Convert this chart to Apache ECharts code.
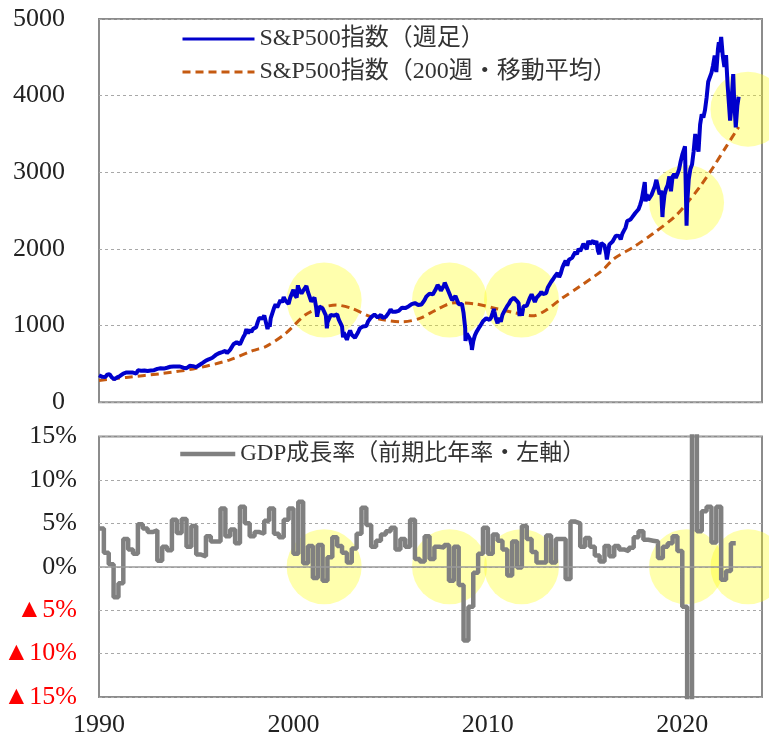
<!DOCTYPE html>
<html><head><meta charset="utf-8">
<script src="https://cdn.jsdelivr.net/npm/echarts@6/dist/echarts.min.js"></script>
<style>html,body{margin:0;padding:0;background:#fff}#c{width:769px;height:736px}</style>
</head><body><div id="c"></div>
<script>
// ---- data ----
const spxStart = [1990.0, 353];
// month-end closes, Jan 1990 .. Oct 2022
const spxMonthly = [
 329,332,340,331,361,358,356,323,306,304,322,330,
 344,367,375,375,390,371,388,395,388,392,375,417,
 409,413,404,415,415,408,424,414,418,419,431,436,
 439,443,452,440,450,451,448,464,459,468,462,467,
 482,467,446,451,457,444,458,476,463,472,454,459,
 470,487,501,515,533,545,562,562,584,582,605,616,
 636,640,646,654,669,671,640,652,687,705,757,741,
 786,791,757,801,848,885,954,900,947,915,955,970,
 980,1049,1102,1112,1091,1134,1121,957,1017,1099,1164,1229,
 1280,1238,1286,1335,1302,1373,1329,1320,1283,1363,1389,1469,
 1395,1366,1499,1452,1421,1455,1431,1518,1437,1429,1315,1320,
 1366,1240,1160,1250,1256,1224,1211,1134,1041,1060,1140,1148,
 1130,1107,1147,1077,1067,990,912,916,815,886,936,880,
 856,841,848,917,964,975,990,1008,996,1051,1058,1112,
 1131,1145,1126,1107,1121,1141,1102,1104,1115,1130,1174,1212,
 1181,1204,1181,1157,1192,1191,1234,1220,1229,1207,1250,1248,
 1280,1281,1295,1311,1270,1270,1277,1304,1336,1378,1401,1418,
 1438,1407,1421,1482,1531,1503,1455,1474,1527,1549,1481,1468,
 1379,1331,1323,1386,1400,1280,1267,1283,1166,969,896,903,
 826,735,798,873,919,919,988,1021,1057,1036,1096,1115,
 1074,1105,1169,1187,1089,1031,1102,1049,1141,1183,1181,1258,
 1286,1327,1326,1364,1345,1321,1292,1219,1131,1253,1247,1258,
 1312,1366,1409,1398,1310,1362,1379,1407,1441,1412,1416,1426,
 1498,1515,1569,1598,1631,1606,1686,1633,1682,1757,1806,1848,
 1783,1860,1872,1884,1924,1960,1931,2003,1972,2018,2068,2059,
 1995,2105,2068,2086,2107,2063,2104,1972,1920,2079,2080,2044,
 1940,1932,2060,2065,2097,2099,2174,2171,2168,2126,2199,2239,
 2279,2364,2363,2384,2412,2423,2470,2472,2519,2575,2648,2674,
 2824,2714,2641,2648,2705,2718,2816,2902,2914,2712,2760,2507,
 2704,2785,2834,2946,2752,2942,2980,2927,2977,3038,3141,3231,
 3226,2954,2585,2912,3044,3100,3271,3500,3363,3270,3622,3756,
 3714,3811,3973,4181,4204,4298,4395,4523,4308,4605,4567,4766,
 4516,4374,4530,4132,4132,3785,4130,3955,3586,3872
];
// weekly highs/lows that stand out in the weekly line
const spxWeeklyExtremes = [
 [1990.54,368],[1990.78,300],[1998.78,984],[2000.23,1527],[2000.68,1520],
 [2001.22,1117],[2001.72,966],[2002.55,847],[2002.77,800],[2003.19,828],
 [2007.78,1561],[2008.85,800],[2009.18,683],[2010.31,1217],[2010.52,1022],
 [2011.63,1124],[2015.73,1931],[2016.12,1864],[2018.07,2873],[2018.11,2620],
 [2018.98,2417],[2020.14,3338],[2020.22,2305],[2021.88,4698],[2022.46,3675],
 [2022.62,4280],[2022.79,3583],[2022.90,3985]
];
// 200-week moving average
const ma200 = [
 [1990.0,285],[1991.4,325],[1993.3,377],[1995.0,443],[1996.7,551],[1997.9,673],
 [1998.6,730],[1999.6,899],[2000.6,1138],[2001.3,1225],[2002.2,1268],[2003.0,1225],
 [2003.9,1124],[2004.7,1072],[2005.6,1050],[2006.5,1094],[2007.3,1200],[2008.3,1300],
 [2009.4,1281],[2010.4,1224],[2011.4,1168],[2012.3,1128],[2013.0,1203],[2013.8,1355],
 [2014.7,1506],[2015.9,1724],[2016.5,1876],[2017.5,2027],[2018.5,2202],[2019.6,2418],
 [2020.25,2601],[2020.9,2809],[2021.6,3070],[2022.3,3352],[2022.9,3591]
];
// US real GDP growth, q/q annualised, 1990Q1 .. 2022Q3
const gdpQuarterly = [
 4.4,1.6,0.3,-3.5, -1.9,3.2,2.0,1.5, 4.9,4.4,4.0,4.2, 0.7,2.3,1.9,5.4,
 3.9,5.5,2.3,4.7, 1.4,1.2,3.5,2.9, 2.9,6.7,3.5,4.3, 2.7,6.9,5.0,3.5,
 4.0,3.8,5.3,6.7, 3.8,3.4,5.4,6.7, 1.5,7.5,0.4,2.4, -1.3,2.5,-1.6,1.1,
 3.4,2.4,1.6,0.5, 2.1,3.8,6.8,4.8, 2.3,3.0,3.7,4.1, 4.5,2.0,3.2,2.3,
 5.4,0.9,0.6,3.5, 0.9,2.3,2.2,2.5, -1.6,2.3,-2.1,-8.5, -4.6,-0.7,1.5,4.5,
 1.5,3.7,3.0,2.0, -1.0,2.9,-0.1,4.7, 3.2,1.7,0.5,0.5, 3.6,0.5,3.2,3.2,
 -1.4,5.2,5.0,2.3, 3.3,2.3,1.3,0.6, 2.4,1.2,2.4,2.0, 1.8,2.2,3.4,4.1,
 3.1,3.0,2.9,1.0, 2.3,2.7,3.5,1.8, -4.6,-29.9,35.3,4.1, 6.4,6.9,2.8,6.9,
 -1.5,-0.5,2.7
];
// highlighted periods (yellow circles)
const circleYears = [2001.58, 2008.03, 2011.73, 2020.22, 2023.38];
const circleSpx = [1333, 1333, 1333, 2606, 3824];
const circleGdp = [0, 0, 0, 0, 0];
const xTicks = [1990, 2000, 2010, 2020];
const spxTicks = [0, 1000, 2000, 3000, 4000, 5000];
const gdpTicks = [-15, -10, -5, 0, 5, 10, 15];
const nameSpx = 'S&P500指数（週足）';
const nameMa = 'S&P500指数（200週・移動平均）';
const nameGdp = 'GDP成長率（前期比年率・左軸）';

// ---- build ----
const spxData = [spxStart]
  .concat(spxMonthly.map((v, i) => [1990 + (i + 1) / 12, v]))
  .concat(spxWeeklyExtremes)
  .sort((a, b) => a[0] - b[0]);
const gdpData = gdpQuarterly.map((v, i) => [1990 + i * 0.25, v]);
gdpData.push([1990 + gdpQuarterly.length * 0.25, gdpQuarterly[gdpQuarterly.length - 1]]);

const FONT = "'Liberation Serif','Noto Sans CJK JP',serif";
const TXT = '#222';
const gridBox = { show: true, borderColor: '#8c8c8c', borderWidth: 2, backgroundColor: 'transparent',
  containLabel: false, outerBoundsMode: 'none' };
const split = { show: true, lineStyle: { color: '#a8a8a8', width: 1, type: [3, 3] } };
const circleStyle = { color: 'rgba(255,255,0,0.4)' };
const legendText = { fontSize: 24, fontFamily: FONT, color: '#333', lineHeight: 26 };

const chart = echarts.init(document.getElementById('c'), null, { renderer: 'canvas' });
chart.setOption({
  animation: false,
  backgroundColor: '#fff',
  grid: [
    Object.assign({ left: 99, top: 19, width: 663, height: 383.3 }, gridBox),
    Object.assign({ left: 99, top: 436.5, width: 663, height: 260.5 }, gridBox)
  ],
  legend: [
    { data: [nameSpx, nameMa], orient: 'vertical', left: 176, top: 21, itemWidth: 72, itemHeight: 14,
      itemGap: 7, itemStyle: { opacity: 0 }, lineStyle: { width: 3 }, textStyle: legendText },
    { data: [nameGdp], orient: 'vertical', left: 173, top: 436, itemWidth: 55, itemHeight: 14,
      itemStyle: { opacity: 0 }, lineStyle: { width: 4.5 },
      textStyle: Object.assign({}, legendText, { fontSize: 23 }) }
  ],
  xAxis: [
    { gridIndex: 0, type: 'value', min: 1990, max: 2024.1, interval: 10,
      axisLabel: { show: false }, axisLine: { show: false }, axisTick: { show: false }, splitLine: { show: false } },
    { gridIndex: 1, type: 'value', min: 1990, max: 2024.1, interval: 10,
      axisLabel: { show: true, fontSize: 26, fontFamily: FONT, color: TXT, margin: 15,
        formatter: v => xTicks.includes(v) ? String(v) : '' },
      axisLine: { show: false }, axisTick: { show: false }, splitLine: { show: false } }
  ],
  yAxis: [
    { gridIndex: 0, type: 'value', min: spxTicks[0], max: spxTicks[spxTicks.length - 1], interval: 1000,
      axisLabel: { fontSize: 26, fontFamily: FONT, color: TXT, margin: 34, formatter: v => String(v) },
      axisLine: { show: false }, axisTick: { show: false }, splitLine: split },
    { gridIndex: 1, type: 'value', min: gdpTicks[0], max: gdpTicks[gdpTicks.length - 1], interval: 5,
      axisLabel: { fontSize: 26, fontFamily: FONT, color: TXT, margin: 22,
        formatter: v => v < 0 ? '{neg|▲' + (-v) + '%}' : v + '%',
        rich: { neg: { color: '#ff0000', fontSize: 26, fontFamily: FONT } } },
      axisLine: { show: false }, axisTick: { show: false }, splitLine: split }
  ],
  series: [
    { type: 'scatter', xAxisIndex: 0, yAxisIndex: 0, silent: true, clip: false, z: 1,
      symbolSize: 75, itemStyle: circleStyle,
      data: circleYears.map((x, i) => [x, circleSpx[i]]) },
    { type: 'scatter', xAxisIndex: 1, yAxisIndex: 1, silent: true, clip: false, z: 1,
      symbolSize: 75, itemStyle: circleStyle,
      data: circleYears.map((x, i) => [x, circleGdp[i]]) },
    { name: nameSpx, type: 'line', xAxisIndex: 0, yAxisIndex: 0, symbol: 'none', z: 4,
      lineStyle: { color: '#0000CC', width: 4 }, itemStyle: { color: '#0000CC' }, data: spxData },
    { name: nameMa, type: 'line', xAxisIndex: 0, yAxisIndex: 0, symbol: 'none', z: 3, smooth: 0.3,
      lineStyle: { color: '#C55A11', width: 3, type: [8, 5] }, itemStyle: { color: '#C55A11' }, data: ma200 },
    { name: nameGdp, type: 'line', xAxisIndex: 1, yAxisIndex: 1, symbol: 'none', z: 3, step: 'end',
      lineStyle: { color: '#808080', width: 4.5 }, itemStyle: { color: '#808080' }, data: gdpData,
      markLine: { silent: true, symbol: 'none', label: { show: false },
        lineStyle: { color: '#9a9a9a', type: 'solid', width: 1.5 }, data: [{ yAxis: 0 }] } }
  ]
});
</script></body></html>
